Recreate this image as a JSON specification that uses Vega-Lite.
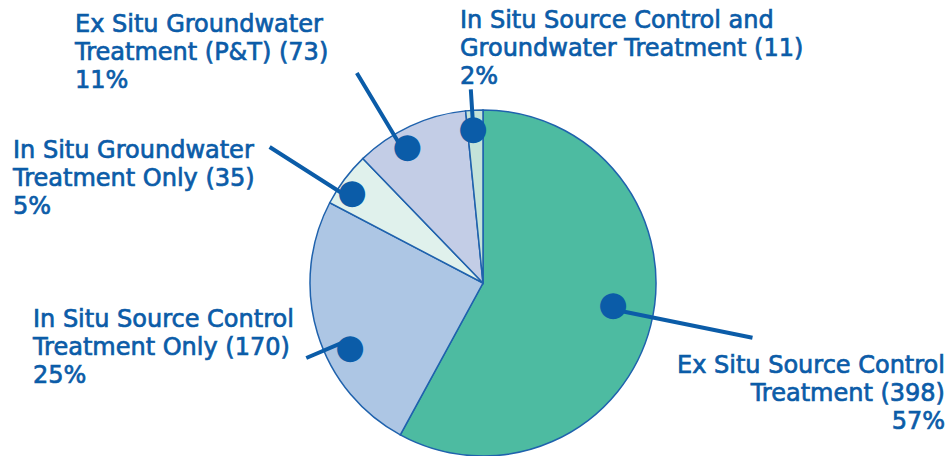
{
  "$schema": "https://vega.github.io/schema/vega-lite/v6.json",
  "width": 938,
  "height": 346,
  "autosize": {"type": "none"},
  "padding": {"left": 14, "top": 110, "right": 0, "bottom": 0},
  "background": "white",
  "config": {"view": {"stroke": null}},
  "data": {
    "values": [
      {"category": "Ex Situ Source Control Treatment", "lines": "Ex Situ Source Control\nTreatment", "count": 398, "pct": 57},
      {"category": "In Situ Source Control Treatment Only", "lines": "In Situ Source Control\nTreatment Only", "count": 170, "pct": 25},
      {"category": "In Situ Groundwater Treatment Only", "lines": "In Situ Groundwater\nTreatment Only", "count": 35, "pct": 5},
      {"category": "Ex Situ Groundwater Treatment (P&T)", "lines": "Ex Situ Groundwater\nTreatment (P&T)", "count": 73, "pct": 11},
      {"category": "In Situ Source Control and Groundwater Treatment", "lines": "In Situ Source Control and\nGroundwater Treatment", "count": 11, "pct": 2}
    ]
  },
  "transform": [
    {"stack": "count", "groupby": [], "offset": "normalize", "as": ["s0", "s1"]},
    {"calculate": "(datum.s0 + datum.s1) / 2", "as": "fm"},
    {"calculate": "datum.lines + ' (' + datum.count + ')\\n' + datum.pct + '%'", "as": "label"}
  ],
  "layer": [
    {
      "mark": {"type": "arc", "stroke": "#1f62ad", "strokeWidth": 1.5},
      "encoding": {
        "theta": {"field": "s0", "type": "quantitative", "stack": null, "scale": {"domain": [0, 1]}},
        "theta2": {"field": "s1"},
        "color": {
          "field": "category",
          "type": "nominal",
          "legend": null,
          "scale": {
            "domain": ["Ex Situ Source Control Treatment", "In Situ Source Control Treatment Only", "In Situ Groundwater Treatment Only", "Ex Situ Groundwater Treatment (P&T)", "In Situ Source Control and Groundwater Treatment"],
            "range": ["#4dbba1", "#adc6e4", "#e0f1ec", "#c3cde6", "#c4e3d9"]
          }
        }
      }
    },
    {
      "transform": [{"filter": "datum.category == 'Ex Situ Source Control Treatment'"}],
      "encoding": {"theta": {"field": "fm", "type": "quantitative", "stack": null}},
      "layer": [
        {"mark": {"type": "arc", "innerRadius": 128, "outerRadius": 275, "thetaOffset": -0.0485, "theta2Offset": -0.0485, "fill": "#0b5ca8", "stroke": "#0b5ca8", "strokeWidth": 4}, "encoding": {"theta2": {"field": "fm"}}},
        {"mark": {"type": "text", "text": "●", "font": "DejaVu Sans", "fontSize": 34, "radius": 131.8, "thetaOffset": -0.0817, "color": "#0b5ca8", "align": "center", "baseline": "middle"}},
        {"mark": {"type": "text", "radius": 275, "thetaOffset": -0.0485, "dx": 192.5, "dy": 35.2, "align": "right", "baseline": "alphabetic", "lineBreak": "\n", "lineHeight": 28, "font": "DejaVu Sans", "fontSize": 24, "color": "#0b5ca8", "stroke": "#0b5ca8", "strokeWidth": 0.7}, "encoding": {"text": {"field": "label"}}}
      ]
    },
    {
      "transform": [{"filter": "datum.category == 'In Situ Source Control Treatment Only'"}],
      "encoding": {"theta": {"field": "fm", "type": "quantitative", "stack": null}},
      "layer": [
        {"mark": {"type": "arc", "innerRadius": 145, "outerRadius": 192, "thetaOffset": -0.1065, "theta2Offset": -0.1065, "fill": "#0b5ca8", "stroke": "#0b5ca8", "strokeWidth": 4}, "encoding": {"theta2": {"field": "fm"}}},
        {"mark": {"type": "text", "text": "●", "font": "DejaVu Sans", "fontSize": 34, "radius": 148, "thetaOffset": -0.1597, "color": "#0b5ca8", "align": "center", "baseline": "middle"}},
        {"mark": {"type": "text", "radius": 192, "thetaOffset": -0.1065, "dx": -273.3, "dy": -31, "align": "left", "baseline": "alphabetic", "lineBreak": "\n", "lineHeight": 28, "font": "DejaVu Sans", "fontSize": 24, "color": "#0b5ca8", "stroke": "#0b5ca8", "strokeWidth": 0.7}, "encoding": {"text": {"field": "label"}}}
      ]
    },
    {
      "transform": [{"filter": "datum.category == 'In Situ Groundwater Treatment Only'"}],
      "encoding": {"theta": {"field": "fm", "type": "quantitative", "stack": null}},
      "layer": [
        {"mark": {"type": "arc", "innerRadius": 155, "outerRadius": 253, "thetaOffset": -0.0752, "theta2Offset": -0.0752, "fill": "#0b5ca8", "stroke": "#0b5ca8", "strokeWidth": 4}, "encoding": {"theta2": {"field": "fm"}}},
        {"mark": {"type": "text", "text": "●", "font": "DejaVu Sans", "fontSize": 34, "radius": 158.9, "thetaOffset": -0.0403, "color": "#0b5ca8", "align": "center", "baseline": "middle"}},
        {"mark": {"type": "text", "radius": 253, "thetaOffset": -0.0752, "dx": -256.6, "dy": 10.9, "align": "left", "baseline": "alphabetic", "lineBreak": "\n", "lineHeight": 28, "font": "DejaVu Sans", "fontSize": 24, "color": "#0b5ca8", "stroke": "#0b5ca8", "strokeWidth": 0.7}, "encoding": {"text": {"field": "label"}}}
      ]
    },
    {
      "transform": [{"filter": "datum.category == 'Ex Situ Groundwater Treatment (P&T)'"}],
      "encoding": {"theta": {"field": "fm", "type": "quantitative", "stack": null}},
      "layer": [
        {"mark": {"type": "arc", "innerRadius": 150, "outerRadius": 245, "thetaOffset": -0.1066, "theta2Offset": -0.1066, "fill": "#0b5ca8", "stroke": "#0b5ca8", "strokeWidth": 4}, "encoding": {"theta2": {"field": "fm"}}},
        {"mark": {"type": "text", "text": "●", "font": "DejaVu Sans", "fontSize": 34, "radius": 156, "thetaOffset": -0.0717, "color": "#0b5ca8", "align": "center", "baseline": "middle"}},
        {"mark": {"type": "text", "radius": 245, "thetaOffset": -0.1066, "dx": -281.8, "dy": -41, "align": "left", "baseline": "alphabetic", "lineBreak": "\n", "lineHeight": 28, "font": "DejaVu Sans", "fontSize": 24, "color": "#0b5ca8", "stroke": "#0b5ca8", "strokeWidth": 0.7}, "encoding": {"text": {"field": "label"}}}
      ]
    },
    {
      "transform": [{"filter": "datum.category == 'In Situ Source Control and Groundwater Treatment'"}],
      "encoding": {"theta": {"field": "fm", "type": "quantitative", "stack": null}},
      "layer": [
        {"mark": {"type": "arc", "innerRadius": 150, "outerRadius": 194, "thetaOffset": -0.0126, "theta2Offset": -0.0126, "fill": "#0b5ca8", "stroke": "#0b5ca8", "strokeWidth": 4}, "encoding": {"theta2": {"field": "fm"}}},
        {"mark": {"type": "text", "text": "●", "font": "DejaVu Sans", "fontSize": 34, "radius": 154.3, "thetaOffset": -0.0143, "color": "#0b5ca8", "align": "center", "baseline": "middle"}},
        {"mark": {"type": "text", "radius": 194, "thetaOffset": -0.0126, "dx": -10.8, "dy": -61.4, "align": "left", "baseline": "alphabetic", "lineBreak": "\n", "lineHeight": 28, "font": "DejaVu Sans", "fontSize": 24, "color": "#0b5ca8", "stroke": "#0b5ca8", "strokeWidth": 0.7}, "encoding": {"text": {"field": "label"}}}
      ]
    }
  ]
}
